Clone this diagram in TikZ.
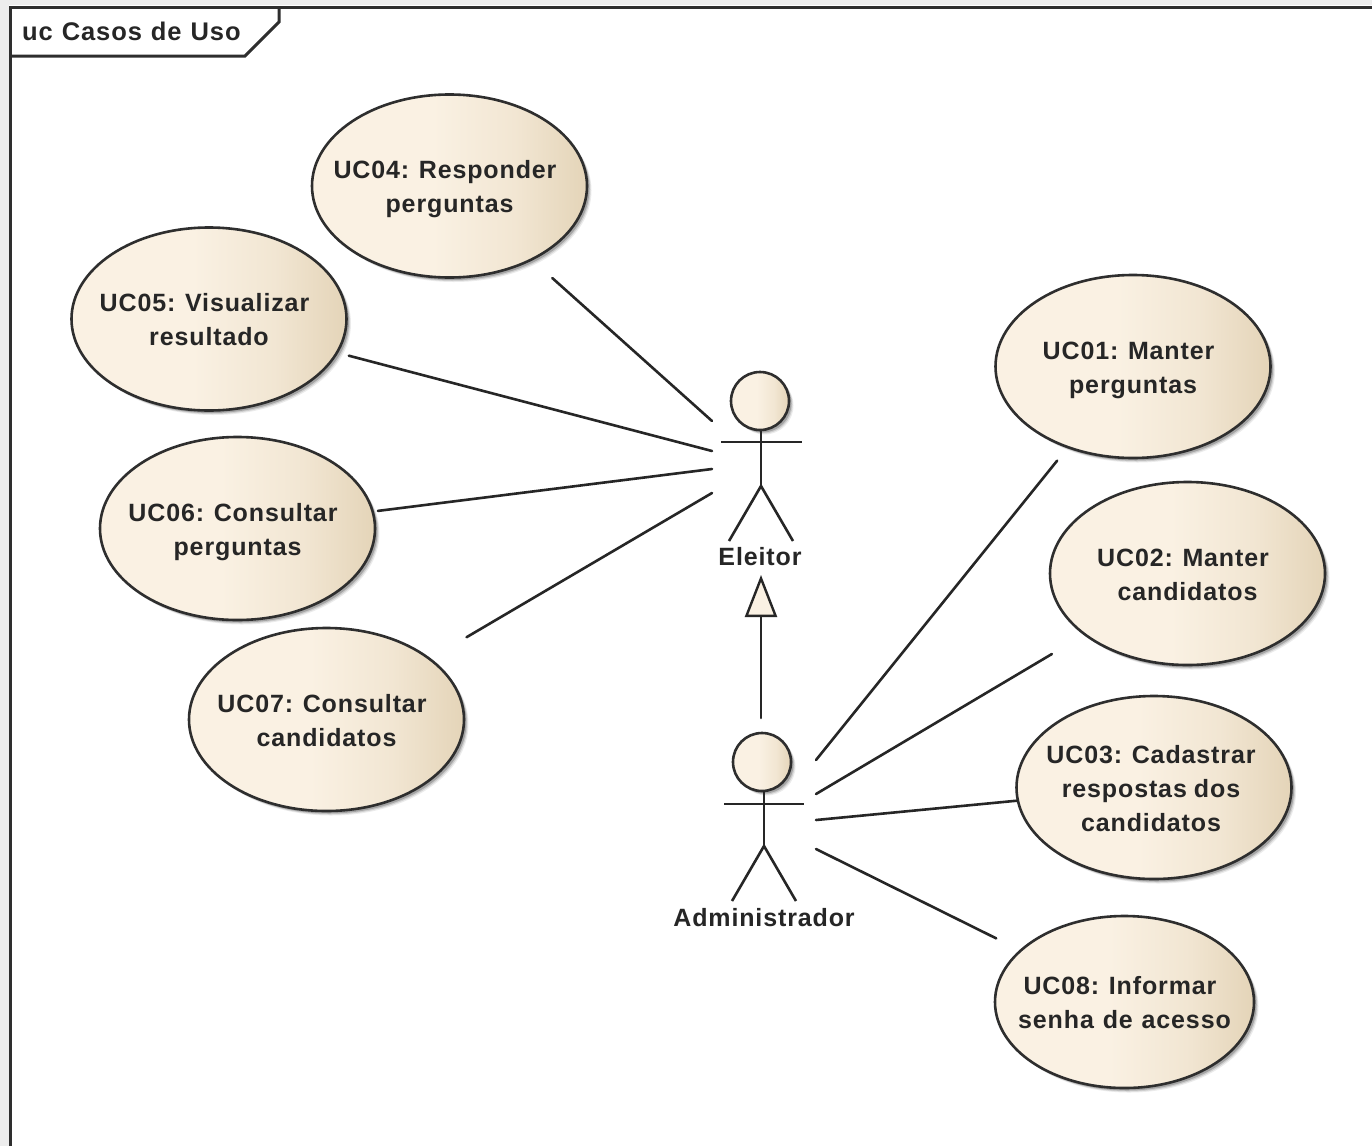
\documentclass[tikz,border=0pt]{standalone}
\usepackage{fontspec}
\setmainfont[LetterSpace=3.5,WordSpace=0.9]{Liberation Sans}
\newfontfamily\widesp[LetterSpace=3.5,WordSpace=1.55]{Liberation Sans}
\newfontfamily\titlesp[LetterSpace=3.5,WordSpace=1.13]{Liberation Sans}
\usetikzlibrary{shapes.geometric,shadows,arrows.meta}
\definecolor{inkc}{HTML}{262626}
\definecolor{edgec}{HTML}{2E2E2E}
\definecolor{sandl}{HTML}{FAF1E3}
\definecolor{sandr}{HTML}{E4D4B8}
\pgfdeclarehorizontalshading{sandshade}{100bp}{
 color(0bp)=(sandl); color(25bp)=(sandl); color(47bp)=(sandl); color(62bp)=(sandl!62!sandr); color(75bp)=(sandr); color(100bp)=(sandr)}
\def\tsp{\kern9pt}
\tikzset{
 softshadow/.style={
  general shadow={shadow xshift=4.5pt,shadow yshift=-4.5pt,fill=black,opacity=.08},
  general shadow={shadow xshift=3.5pt,shadow yshift=-3.5pt,fill=black,opacity=.12},
  general shadow={shadow xshift=2.5pt,shadow yshift=-2.5pt,fill=black,opacity=.2}},
 usecase/.style={ellipse,draw=edgec,line width=2.6pt,shading=sandshade,softshadow,
  minimum width=275pt,minimum height=183pt,inner sep=0pt},
 usecasesm/.style={usecase,minimum width=259pt,minimum height=172pt},
 uctext/.style={inner sep=0pt,outer sep=0pt,align=center,text=inkc,yshift=-6pt,
  font=\fontsize{25}{34}\selectfont\bfseries,
  execute at begin node=\strut,execute at end node=\strut},
 head/.style={ellipse,draw=edgec,line width=2.6pt,shading=sandshade,softshadow,
  minimum width=58pt,minimum height=58pt,inner sep=0pt},
 actorname/.style={text=inkc,inner sep=0pt,font=\fontsize{25}{30}\selectfont\bfseries},
 framel/.style={draw=edgec,line width=3pt},
 stick/.style={draw=inkc,line width=2.6pt},
 assoc/.style={draw=inkc,line width=2.6pt,line cap=round},
}
\begin{document}
\begin{tikzpicture}[x=1pt,y=-1pt]
\useasboundingbox (0,0) rectangle (1372,1146);
\fill[white] (0,0) rectangle (1372,1146);
\fill[black!7] (0,0) rectangle (9,1146);
\fill[black!7] (0,0) rectangle (1372,5);
% frame
\draw[framel] (1372,7) -- (10,7) -- (10,1146);
\draw[framel] (10,56) -- (245,56) -- (279,22) -- (279,7);
\node[anchor=west,inner sep=0pt,text=inkc,font=\fontsize{25.5}{30}\titlesp\selectfont\bfseries] (title) at (22,31) {uc Casos de Uso};
% use cases
\node[usecase,label={[uctext,name=t04]center:{UC04: Responder\tsp\\perguntas}}] (uc04) at (449.5,186) {};
\node[usecase,label={[uctext,name=t05]center:{UC05: Visualizar\tsp\\resultado}}] (uc05) at (209,319) {};
\node[usecase,label={[uctext,name=t06]center:{UC06: Consultar\tsp\\perguntas}}] (uc06) at (237.5,528.5) {};
\node[usecase,label={[uctext,name=t07]center:{UC07: Consultar\tsp\\candidatos}}] (uc07) at (326.5,719.5) {};
\node[usecase,label={[uctext,name=t01]center:{UC01: Manter\tsp\\perguntas}}] (uc01) at (1133,366.5) {};
\node[usecase,label={[uctext,name=t02]center:{UC02: Manter\tsp\\candidatos}}] (uc02) at (1187.5,573.5) {};
\node[usecase,label={[uctext,name=t03,xshift=-3pt]center:{UC03: Cadastrar\\respostas dos\\candidatos}}] (uc03) at (1154,787.5) {};
\node[usecasesm,label={[uctext,name=t08]center:{UC08: Informar\tsp\\{\widesp\bfseries senha de acesso}}}] (uc08) at (1124.5,1002) {};
% actor Eleitor
\node[head] (el) at (760,401) {};
\coordinate (elneck) at (761,431);
\coordinate (elhip) at (761,486);
\coordinate (elarml) at (721,442);
\coordinate (elarmr) at (802,442);
\coordinate (ellegl) at (729,541);
\coordinate (ellegr) at (793,541);
\draw[stick] (elneck) -- (elhip);
\draw[stick] (elarml) -- (elarmr);
\draw[stick] (ellegl) -- (elhip) -- (ellegr);
\node[actorname] (eleitor) at (760,557) {Eleitor};
% actor Administrador
\node[head] (ad) at (762,762) {};
\coordinate (adneck) at (764,791);
\coordinate (adhip) at (764,846);
\coordinate (adarml) at (724,804);
\coordinate (adarmr) at (804,804);
\coordinate (adlegl) at (732,901);
\coordinate (adlegr) at (796,901);
\draw[stick] (adneck) -- (adhip);
\draw[stick] (adarml) -- (adarmr);
\draw[stick] (adlegl) -- (adhip) -- (adlegr);
\node[actorname] (admin) at (764,918) {Administrador};
% connector ends beside the actors
\coordinate (e4) at (712,421);
\coordinate (e5) at (712,451);
\coordinate (e6) at (712,469);
\coordinate (e7) at (712,493);
\coordinate (a1) at (816,760);
\coordinate (a2) at (816,794);
\coordinate (a3) at (816,820);
\coordinate (a8) at (816,849);
\coordinate (gentop) at (761,575);
\coordinate (genbase) at (761,718);
% associations
\draw[assoc,shorten <=26.5pt] (uc04) -- (e4);
\draw[assoc,shorten <=11pt] (uc05) -- (e5);
\draw[assoc,shorten <=4pt] (uc06) -- (e6);
\draw[assoc,shorten <=41.5pt] (uc07) -- (e7);
\draw[assoc,shorten <=16pt] (uc01) -- (a1);
\draw[assoc,shorten <=37pt] (uc02) -- (a2);
\draw[assoc] (uc03) -- (a3);
\draw[assoc,shorten <=26pt] (uc08) -- (a8);
% generalisation
\draw[assoc,-{Triangle[open,length=42pt,width=32pt,fill=sandl,line width=2.4pt]}] (genbase) -- (gentop);
\end{tikzpicture}
\end{document}
